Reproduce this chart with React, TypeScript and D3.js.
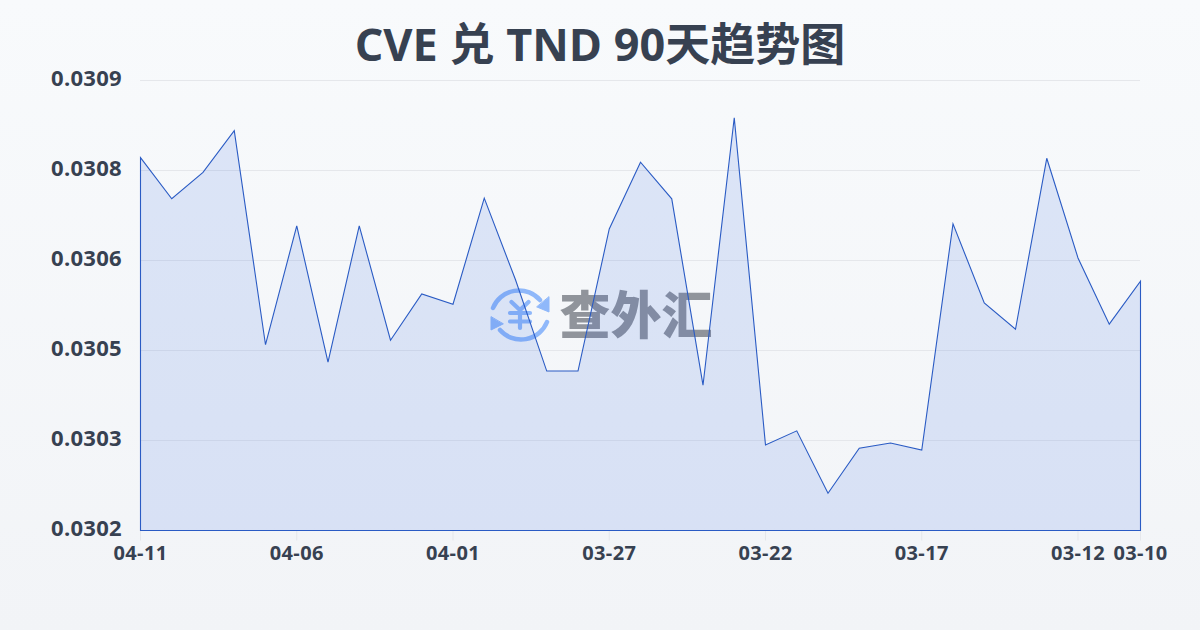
import React from "react";
import * as d3 from "d3";

const rates = [0.03078,0.030716,0.030757,0.030822,0.030489,0.030674,0.030462,0.030674,0.030496,0.030568,0.030552,0.030717,0.03059,0.030448,0.030448,0.030669,0.030773,0.030716,0.030426,0.030842,0.030333,0.030355,0.030258,0.030328,0.030336,0.030325,0.030677,0.030554,0.030513,0.030779,0.030624,0.030521,0.030588];
const xLabels: [number, string][] = [[0,"04-11"],[5,"04-06"],[10,"04-01"],[15,"03-27"],[20,"03-22"],[25,"03-17"],[30,"03-12"],[32,"03-10"]];
const yTicks = [0.0309,0.03076,0.03062,0.03048,0.03034,0.0302];
const yLabels = ["0.0309","0.0308","0.0306","0.0305","0.0303","0.0302"];
const title = "CVE 兑 TND 90天趋势图";
const brand = "查外汇";

const LAT = "'Open Sans','Noto Sans CJK SC',sans-serif";
const TICK = "'Open Sans',sans-serif";

export default function App() {
  const x = d3.scaleLinear().domain([0, rates.length - 1]).range([140.5, 1140.5]);
  const y = d3.scaleLinear().domain([0.0302, 0.0309]).range([530.5, 80.5]);
  const area = d3.area<number>().x((_, i) => x(i)).y0(y(0.0302)).y1(d => y(d));
  return (
    <svg width={1200} height={630} style={{ position: "fixed", left: 0, top: 0, display: "block" }}>
      <defs>
        <linearGradient id="bg" x1="0" y1="0" x2="0" y2="1">
          <stop offset="0" stopColor="#f8fafc" />
          <stop offset="1" stopColor="#f2f4f7" />
        </linearGradient>
      </defs>
      <rect width={1200} height={630} fill="url(#bg)" />
      <text x={600} y={61} textAnchor="middle" fontFamily={LAT} fontWeight={700} fontSize={45} fill="#374151">{title}</text>
      {yTicks.map((t, i) => (
        <g key={i}>
          <line x1={140} x2={1140} y1={y(t)} y2={y(t)} stroke="#e5e7eb" strokeWidth={1} />
          <text x={122} y={y(t) + 5.5} textAnchor="end" fontFamily={TICK} fontWeight={700} fontSize={22} letterSpacing={0.3} fill="#374151">{yLabels[i]}</text>
        </g>
      ))}
      {xLabels.map(([i, s]) => (
        <g key={s}>
          <line x1={x(i)} x2={x(i)} y1={530.5} y2={540.5} stroke="#e5e7eb" />
          <text x={x(i)} y={560} textAnchor="middle" fontFamily={TICK} fontWeight={700} fontSize={20} letterSpacing={0.4} fill="#374151">{s}</text>
        </g>
      ))}
      <g transform="translate(520,315)" fill="none" stroke="#8fb8fa" strokeWidth={4.5} strokeLinecap="round">
        <path d="M -27 -7 A 28 28 0 0 1 20 -15 M 27 7 A 28 28 0 0 1 -20 15" />
        <path d="M 29 -18 L 29 -3 L 17 -8 Z" fill="#8fb8fa" stroke="#8fb8fa" strokeWidth={1} />
        <path d="M -29 2 L -29 15 L -17 9 Z" fill="#8fb8fa" stroke="#8fb8fa" strokeWidth={1} />
        <path d="M -8.5 -13 L 0 -5 L 8.5 -13 M -10 -2 H 10 M -10 6.5 H 10 M 0 -5 V 13" strokeWidth={4.2} />
      </g>
      <text x={636} y={334} textAnchor="middle" fontFamily="'Noto Sans CJK SC'" fontWeight={900} fontSize={51} fill="#90949b">{brand}</text>
      <path d={area(rates) + "Z"} fill="rgba(37,90,225,0.13)" stroke="#2a5bc4" strokeWidth={1.1} strokeLinejoin="miter" />
    </svg>
  );
}
